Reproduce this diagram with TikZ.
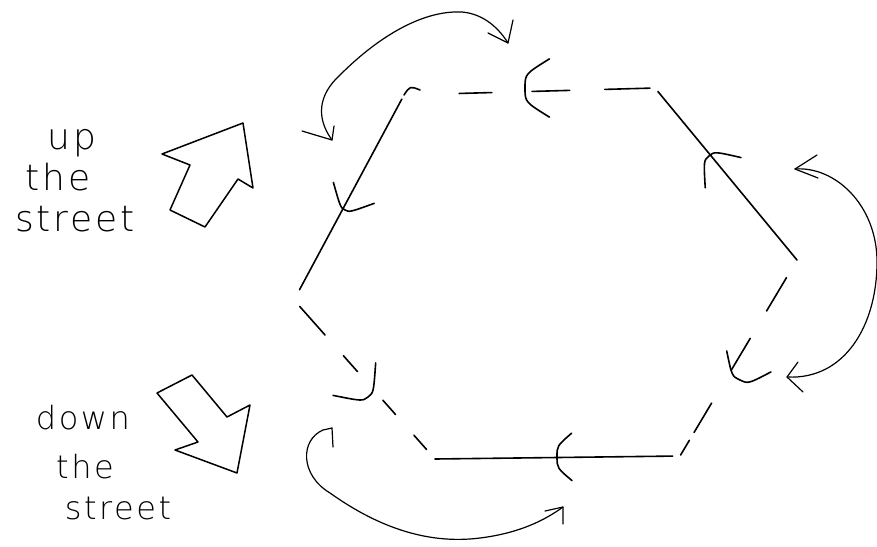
\documentclass[tikz,border=0pt]{standalone}
\usepackage{fontspec}
\newfontfamily\handfont[LetterSpace=8]{DejaVu Sans ExtraLight}
\usetikzlibrary{calc}
% #1 apex, #2 point behind the apex on the edge, #3 barb length, #4 bulge, #5 half angle
\newcommand{\halfmark}[5]{%
  \draw[mk] ($(#1)!#3!#5:(#2)$) .. controls ($(#1)!#4!90:(#2)$) .. (#1)
            .. controls ($(#1)!#4!-90:(#2)$) .. ($(#1)!#3!-#5:(#2)$);}
\begin{document}
\begin{tikzpicture}[x=1pt,y=-1pt,
  edge/.style={line width=1.6pt,line cap=round},
  mk/.style={line width=1.6pt,line cap=round,line join=round},
  curv/.style={line width=1.2pt,line cap=round,line join=round},
  blk/.style={line width=1.5pt,line join=round},
  lbl/.style={font=\handfont\fontsize{36}{38}\selectfont,inner sep=0pt},
  lbls/.style={font=\handfont\fontsize{32}{34}\selectfont,inner sep=0pt}]
\useasboundingbox (0,0) rectangle (877,546);

% hexagon corners
\coordinate (TL) at (404,95);
\coordinate (TR) at (655,88);
\coordinate (R)  at (797,260);
\coordinate (BR) at (680,456);
\coordinate (BL) at (435,459);
\coordinate (L)  at (294,300);

% solid edges
\draw[edge] ($(TR)!0.02!(R)$) -- (R);
\draw[edge] ($(BR)!0.03!(BL)$) -- (BL);
\draw[edge] ($(L)!0.05!(TL)$) -- ($(TL)!0.02!(L)$);

% dashed edges
\draw[edge] (TL) .. controls ($(TL)+(6,-9)$) .. ($(TL)+(16,-5)$);
\foreach \a/\b in {0.22/0.35,0.51/0.66,0.80/0.98}
  \draw[edge] ($(TL)!\a!(TR)$) -- ($(TL)!\b!(TR)$);
\foreach \a/\b in {0.09/0.26,0.40/0.56,0.73/0.88,0.92/0.995}
  \draw[edge] ($(R)!\a!(BR)$) -- ($(R)!\b!(BR)$);
\foreach \a/\b in {0.06/0.15,0.28/0.37,0.55/0.65,0.78/0.96}
  \draw[edge] ($(BL)!\a!(L)$) -- ($(BL)!\b!(L)$);

% direction marks
\coordinate (m1) at (525,88);
\coordinate (m2) at (709,156);
\coordinate (m3) at (740,380);
\coordinate (m4) at (557,457);
\coordinate (m5) at (368,397);
\coordinate (m6) at (345,210);
\halfmark{m1}{TR}{38pt}{14pt}{50}
\halfmark{m2}{R}{32pt}{7pt}{47}
\halfmark{m3}{R}{32pt}{9pt}{50}
\halfmark{m4}{BR}{28pt}{11pt}{58}
\halfmark{m5}{L}{35pt}{7pt}{50}
\halfmark{m6}{TL}{30pt}{5pt}{50}

% curved arrows
\coordinate (a1s) at (332,140);
\coordinate (a1e) at (508,43);
\draw[curv] (a1s) .. controls (316,118) and (318,95) .. (340,75)
  .. controls (375,40) and (420,10) .. (462,12)
  .. controls (485,14) and (500,30) .. (a1e);
\draw[curv] (302,131) -- (a1s) -- (334,126);
\draw[curv] (488,33) -- (a1e) -- (513,20);

\coordinate (a2s) at (795,169);
\coordinate (a2e) at (787,377);
\draw[curv] (a2s) .. controls (835,166) and (877,205) .. (877,262)
  .. controls (877,325) and (845,380) .. (a2e);
\draw[curv] (817,155) -- (a2s) -- (818,178);
\draw[curv] (798,362) -- (a2e) -- (803,392);

\coordinate (a3s) at (332,428);
\coordinate (a3e) at (563,507);
\draw[curv] (a3s) -- (323,430) .. controls (300,440) and (300,475) .. (330,493)
  .. controls (375,525) and (425,545) .. (480,538)
  .. controls (520,533) and (545,520) .. (a3e);
\draw[curv] (a3s) -- (333,447);
\draw[curv] (563,524) -- (a3e) -- (545,511);

% block arrows
\draw[blk] (162,154) -- (243,123) -- (253,188) -- (238,179) -- (205,227)
  -- (170,210) -- (190,165) -- cycle;
\draw[blk] (157,393) -- (192,375) -- (227,417) -- (250,405) -- (237,473)
  -- (175,450) -- (198,442) -- cycle;

% labels
\node[lbl] (up1) at (72,143) {up};
\node[lbl] (up2) at (58,177) {the};
\node[lbl] (up3) at (75,219) {street};
\node[lbls] (dn1) at (83,418) {down};
\node[lbls] (dn2) at (85,467) {the};
\node[lbls] (dn3) at (118,508) {street};
\end{tikzpicture}
\end{document}
